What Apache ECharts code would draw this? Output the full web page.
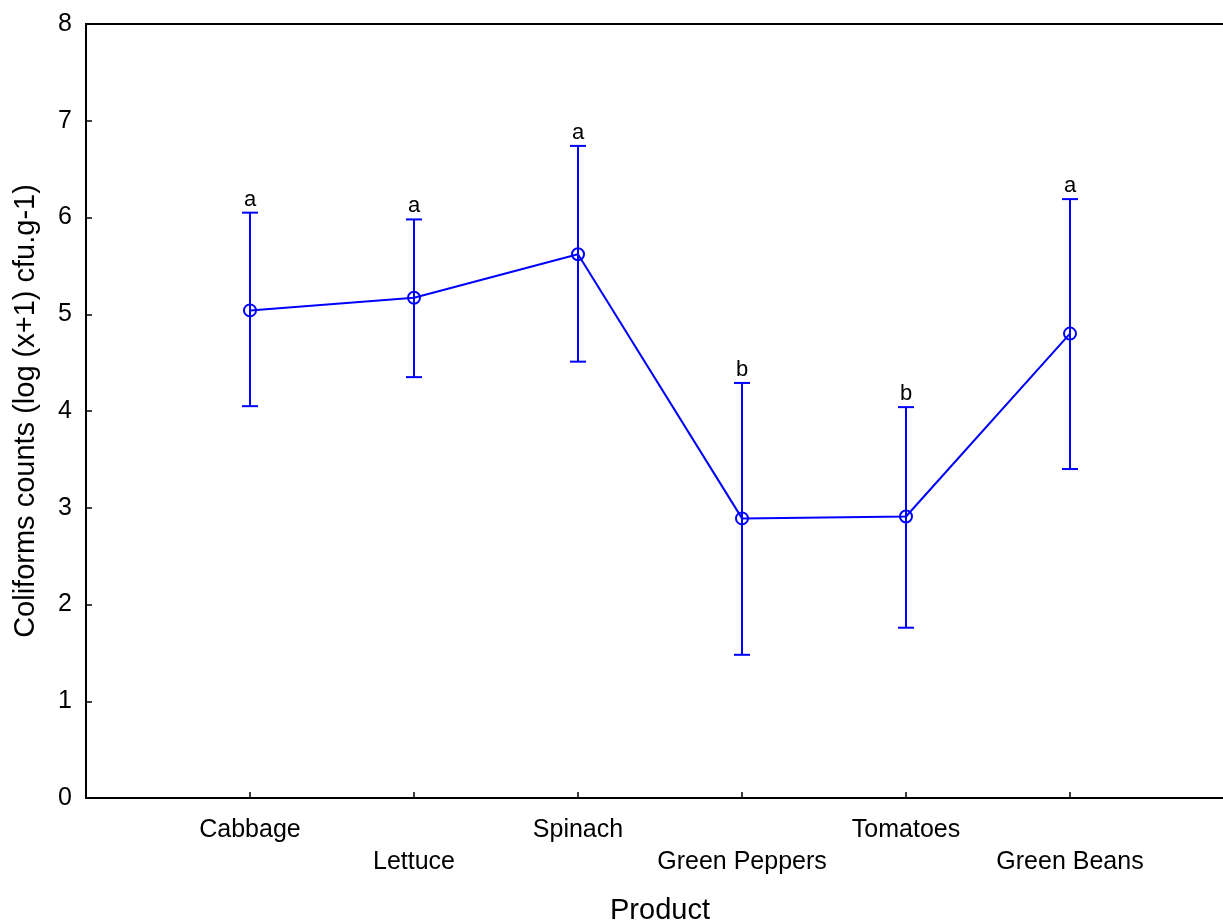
<!DOCTYPE html>
<html>
<head>
<meta charset="utf-8">
<script src="https://cdn.jsdelivr.net/npm/echarts@6/dist/echarts.min.js"></script>
<style>html,body{margin:0;padding:0;background:#fff}#c{width:1223px;height:921px}</style>
</head>
<body>
<div id="c"></div>
<script>
const categories = ['Cabbage', 'Lettuce', 'Spinach', 'Green Peppers', 'Tomatoes', 'Green Beans'];
const means = [5.04, 5.17, 5.62, 2.89, 2.91, 4.80];
const lower = [4.05, 4.35, 4.51, 1.48, 1.76, 3.40];
const upper = [6.05, 5.98, 6.74, 4.29, 4.04, 6.19];
const groups = ['a', 'a', 'a', 'b', 'b', 'a'];
const yTicks = [0, 1, 2, 3, 4, 5, 6, 7, 8];

const font = 'Liberation Sans, Arial, sans-serif';
const blue = '#0000ff';

const lineData = means.map((m, i) => [i + 1, m]);
const errData = means.map((m, i) => [i + 1, lower[i], upper[i], groups[i]]);

const chart = echarts.init(document.getElementById('c'), null, {renderer: 'canvas'});
chart.setOption({
  animation: false,
  backgroundColor: '#fff',
  grid: {left: 86, top: 24, width: 1148, height: 774, show: true, borderColor: '#000', borderWidth: 2,
    containLabel: false, outerBoundsMode: 'none'},
  xAxis: {
    type: 'value', min: 0, max: 7, interval: 1,
    name: 'Product', nameLocation: 'middle', nameGap: 98,
    nameTextStyle: {fontFamily: font, fontSize: 29, color: '#000'},
    axisLine: {show: true, lineStyle: {color: '#000', width: 2}},
    axisTick: {show: true, inside: true, length: 6, lineStyle: {color: '#000', width: 1.5}},
    splitLine: {show: false},
    axisLabel: {
      fontFamily: font, fontSize: 25, color: '#000', margin: 16, lineHeight: 32,
      formatter: function (v) {
        const i = Math.round(v) - 1;
        if (i < 0 || i >= categories.length) return '';
        return (i % 2 === 1 ? '\n' : '') + categories[i];
      }
    }
  },
  yAxis: {
    type: 'value', min: 0, max: 8, interval: 1,
    name: 'Coliforms counts (log (x+1) cfu.g-1)', nameLocation: 'middle', nameGap: 46,
    nameTextStyle: {fontFamily: font, fontSize: 29, color: '#000'},
    axisLine: {show: true, lineStyle: {color: '#000', width: 2}},
    axisTick: {show: true, inside: true, length: 6, lineStyle: {color: '#000', width: 1.5}},
    splitLine: {show: false},
    axisLabel: {fontFamily: font, fontSize: 25, color: '#000', margin: 14,
      formatter: function (v) { return yTicks.indexOf(v) >= 0 ? String(v) : ''; }}
  },
  series: [
    {
      type: 'custom',
      data: errData,
      z: 3,
      renderItem: function (params, api) {
        const x = api.value(0);
        const lo = api.coord([x, api.value(1)]);
        const hi = api.coord([x, api.value(2)]);
        const hw = 8;
        const st = {stroke: blue, lineWidth: 2};
        return {
          type: 'group',
          children: [
            {type: 'line', shape: {x1: lo[0], y1: lo[1], x2: hi[0], y2: hi[1]}, style: st},
            {type: 'line', shape: {x1: lo[0] - hw, y1: lo[1], x2: lo[0] + hw, y2: lo[1]}, style: st},
            {type: 'line', shape: {x1: hi[0] - hw, y1: hi[1], x2: hi[0] + hw, y2: hi[1]}, style: st},
            {type: 'text', style: {x: hi[0], y: hi[1] - 2, text: api.value(3), fill: '#000',
              font: '22px ' + font, textAlign: 'center', textVerticalAlign: 'bottom'}}
          ]
        };
      }
    },
    {
      type: 'line',
      data: lineData,
      z: 4,
      symbol: 'circle', symbolSize: 12,
      lineStyle: {color: blue, width: 2},
      itemStyle: {color: 'rgba(0,0,0,0)', borderColor: blue, borderWidth: 2},
      emphasis: {disabled: true}
    }
  ]
});
</script>
</body>
</html>
